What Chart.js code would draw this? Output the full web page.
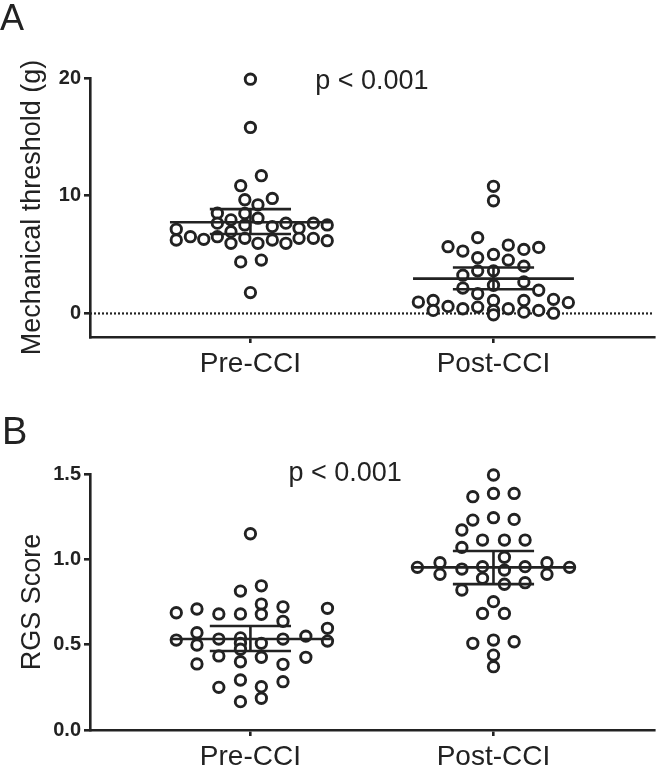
<!DOCTYPE html>
<html>
<head>
<meta charset="utf-8">
<script src="https://cdn.jsdelivr.net/npm/chart.js@4.4.0/dist/chart.umd.min.js"></script>
<style>
  body { margin: 0; background: #fff; }
  #page { position: relative; width: 662px; height: 767px; overflow: hidden; font-family: "Liberation Sans", Arial, sans-serif; }
  .panel { position: absolute; left: 0; width: 662px; }
  #wrapA { top: 0; height: 383px; }
  #wrapB { top: 383px; height: 384px; }
  .letter { position: absolute; color: #222; line-height: 1; }
</style>
</head>
<body>
<div id="page">
  <div class="panel" id="wrapA"><canvas id="chartA" width="662" height="383"></canvas></div>
  <div class="panel" id="wrapB"><canvas id="chartB" width="662" height="384"></canvas></div>
  <div class="letter" style="left:0;top:0;font-size:36px">A</div>
  <div class="letter" style="left:2px;top:412px;font-size:38px">B</div>
</div>
<script>
const categories = ["Pre-CCI", "Post-CCI"];

// Panel A - mechanical threshold (g)
const preA = [19.9, 15.8, 11.7, 10.85, 9.77, 9.66, 9.23, 8.52, 8.5, 7.95, 8.09, 7.67, 7.52, 7.38, 7.67, 7.24, 7.67, 7.52, 7.15, 6.95, 6.52, 6.3, 6.52, 6.38, 6.24, 5.96, 5.96, 6.24, 5.96, 6.38, 6.38, 6.18, 4.38, 4.53, 1.77];
const preAJitter = [0, 0, 0.045, -0.04, 0.09, -0.023, 0.031, -0.136, -0.023, -0.08, 0.031, -0.136, -0.023, 0.09, 0.146, 0.2, 0.259, 0.316, -0.305, -0.08, -0.247, -0.192, -0.136, -0.023, -0.305, -0.08, 0.031, 0.09, 0.146, 0.2, 0.259, 0.316, -0.04, 0.045, 0];
const postA = [10.8, 9.57, 6.44, 5.67, 5.3, 5.81, 5.44, 5.61, 4.73, 5.01, 4.53, 4.02, 3.62, 3.62, 3.25, 2.68, 2.39, 2.16, 1.97, 1.68, 0.97, 1.11, 0.6, 1.11, 1.11, 1.2, 0.92, 0.26, 0.4, 0.54, 0.26, 0.4, 0.11, 0.26, 0.02, -0.12];
const postAJitter = [0, 0, -0.065, -0.187, -0.126, 0.061, 0.125, 0.186, -0.065, 0, 0.061, 0.125, -0.065, 0, -0.126, 0.125, 0, -0.126, 0.186, -0.065, -0.309, -0.248, -0.187, 0, 0.125, 0.247, 0.308, -0.248, -0.126, -0.065, 0, 0.061, 0.125, 0.186, 0.247, 0];
const meanA = [7.75, 2.96];
const lowA = [6.75, 2.05];
const highA = [8.86, 3.9];
const ticksA = [0, 10, 20];

// Panel B - RGS score
const preB = [1.15, 0.845, 0.814, 0.738, 0.722, 0.713, 0.687, 0.709, 0.68, 0.68, 0.678, 0.637, 0.596, 0.57, 0.527, 0.533, 0.54, 0.533, 0.55, 0.521, 0.498, 0.508, 0.508, 0.473, 0.434, 0.426, 0.426, 0.4, 0.387, 0.385, 0.293, 0.25, 0.254, 0.283, 0.186, 0.166];
const preBJitter = [0, 0.045, -0.041, 0.045, 0.134, 0.317, -0.305, -0.22, -0.13, -0.041, 0.045, 0.134, 0.317, -0.22, -0.305, -0.13, -0.041, 0.134, 0.228, 0.317, -0.22, -0.041, 0.045, -0.041, -0.13, 0.045, 0.228, -0.041, -0.22, 0.134, -0.041, -0.13, 0.045, 0.134, 0.045, -0.041];
const postB = [1.494, 1.367, 1.386, 1.386, 1.23, 1.244, 1.234, 1.172, 1.113, 1.113, 1.113, 1.07, 1.012, 0.953, 0.98, 0.912, 0.943, 0.957, 0.937, 0.957, 0.98, 0.912, 0.953, 0.889, 0.854, 0.863, 0.82, 0.752, 0.683, 0.683, 0.508, 0.527, 0.517, 0.439, 0.371];
const postBJitter = [0, -0.085, 0, 0.085, -0.085, 0, 0.085, -0.13, -0.045, 0.045, 0.13, -0.13, 0.045, -0.313, -0.22, -0.22, -0.13, -0.045, 0.045, 0.13, 0.22, 0.22, 0.313, -0.045, 0.045, 0.13, -0.13, 0, -0.045, 0.045, -0.085, 0, 0.085, 0, 0];
const meanB = [0.533, 0.953];
const lowB = [0.463, 0.855];
const highB = [0.609, 1.049];
const ticksB = [0, 0.5, 1.0, 1.5];

const INK = "#222";
const FONT = "'Liberation Sans', Arial, sans-serif";
Chart.defaults.font.family = FONT;
Chart.defaults.color = INK;

// line segment dataset (mean / error bar pieces)
function seg(x1, y1, x2, y2) {
  return {
    data: [{ x: x1, y: y1 }, { x: x2, y: y2 }],
    showLine: true,
    borderColor: INK,
    borderWidth: 2.6,
    pointRadius: 0,
    order: 1,
  };
}

// draws the "p < 0.001" note at a data position
const pNote = {
  id: "pNote",
  afterDraw(chart, args, o) {
    const { ctx, scales } = chart;
    ctx.save();
    ctx.font = "27px " + FONT;
    ctx.fillStyle = INK;
    ctx.textAlign = "center";
    ctx.textBaseline = "middle";
    ctx.fillText(o.text, scales.x.getPixelForValue(o.x), scales.y.getPixelForValue(o.y));
    ctx.restore();
  },
};

function buildChart(id, opts) {
  const datasets = [];
  opts.means.forEach((m, i) => {
    datasets.push(seg(i - 0.331, m, i + 0.331, m));
    datasets.push(seg(i - 0.167, opts.lows[i], i + 0.167, opts.lows[i]));
    datasets.push(seg(i - 0.167, opts.highs[i], i + 0.167, opts.highs[i]));
    datasets.push(seg(i, opts.lows[i], i, opts.highs[i]));
  });
  opts.groups.forEach((g, i) => {
    datasets.push({
      data: g.values.map((v, k) => ({ x: i + g.jitter[k], y: v })),
      showLine: false,
      clip: false,
      pointRadius: 5.2,
      pointBorderWidth: 2.9,
      pointBorderColor: INK,
      pointBackgroundColor: "#fff",
      order: 2,
    });
  });
  if (opts.zeroLine) {
    datasets.push({
      data: [{ x: -0.66, y: 0 }, { x: 1.66, y: 0 }],
      showLine: true,
      borderColor: INK,
      borderWidth: 2.2,
      borderDash: [2, 2],
      pointRadius: 0,
      order: 3,
    });
  }

  return new Chart(document.getElementById(id), {
    type: "scatter",
    data: { datasets: datasets },
    plugins: [pNote],
    options: {
      responsive: false,
      animation: false,
      layout: { padding: { top: opts.top, right: 2, bottom: 0, left: 0 } },
      plugins: {
        legend: { display: false },
        tooltip: { enabled: false },
        pNote: opts.note,
      },
      scales: {
        x: {
          type: "linear",
          min: -0.66,
          max: 1.66,
          afterBuildTicks: (s) => { s.ticks = categories.map((c, i) => ({ value: i })); },
          afterFit: (s) => { s.height = opts.xHeight; },
          ticks: {
            callback: (v) => categories[v],
            font: { size: 28 },
            color: INK,
            padding: 4,
            maxRotation: 0,
            autoSkip: false,
          },
          grid: { drawOnChartArea: false, drawTicks: true, tickLength: 6, color: INK, lineWidth: 2.6 },
          border: { color: INK, width: 2.6 },
        },
        y: {
          min: opts.yMin,
          max: opts.yMax,
          afterBuildTicks: (s) => { s.ticks = opts.yTicks.map((v) => ({ value: v })); },
          afterFit: (s) => { s.width = 90; },
          ticks: {
            callback: opts.yFormat,
            font: { size: 20, weight: "bold" },
            color: INK,
            padding: 3,
          },
          grid: { drawOnChartArea: false, drawTicks: true, tickLength: 6, color: INK, lineWidth: 2.6 },
          border: { color: INK, width: 2.6 },
          title: {
            display: true,
            text: opts.yTitle,
            font: { size: 27 },
            color: INK,
            padding: { top: 16, bottom: 0 },
          },
        },
      },
    },
  });
}

buildChart("chartA", {
  groups: [{ values: preA, jitter: preAJitter }, { values: postA, jitter: postAJitter }],
  means: meanA, lows: lowA, highs: highA,
  zeroLine: true,
  top: 78, xHeight: 46,
  yMin: -2, yMax: 20, yTicks: ticksA,
  yFormat: (v) => String(v),
  yTitle: "Mechanical threshold (g)",
  note: { text: "p < 0.001", x: 0.5, y: 19.7 },
});

buildChart("chartB", {
  groups: [{ values: preB, jitter: preBJitter }, { values: postB, jitter: postBJitter }],
  means: meanB, lows: lowB, highs: highB,
  zeroLine: false,
  top: 91, xHeight: 37,
  yMin: 0, yMax: 1.5, yTicks: ticksB,
  yFormat: (v) => v.toFixed(1),
  yTitle: "RGS Score",
  note: { text: "p < 0.001", x: 0.39, y: 1.5 },
});
</script>
</body>
</html>
